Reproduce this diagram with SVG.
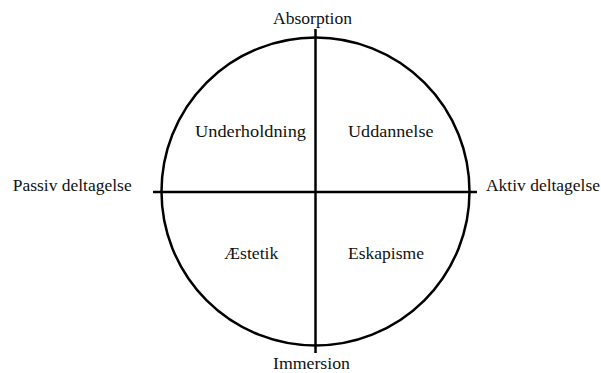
<svg xmlns="http://www.w3.org/2000/svg" width="601" height="373" viewBox="0 0 601 373">
<style>
text{font-family:"Liberation Serif","Times New Roman",serif;font-size:16.5px;fill:#111}
.ln{stroke:#000;stroke-width:2.5;fill:none}
</style>
<rect width="601" height="373" fill="#fff"/>
<g id="circle"><circle class="ln" cx="315.5" cy="191.5" r="154"/></g>
<g id="connectors">
<line class="ln" x1="315.5" y1="29" x2="315.5" y2="353"/>
<line class="ln" x1="153" y1="192" x2="477" y2="192"/>
</g>
<g id="absorption"><text x="273" y="24" textLength="79" lengthAdjust="spacingAndGlyphs">Absorption</text></g>
<g id="immersion"><text x="273" y="369" textLength="77" lengthAdjust="spacingAndGlyphs">Immersion</text></g>
<g id="passiv"><text x="12.7" y="191" textLength="119" lengthAdjust="spacingAndGlyphs">Passiv deltagelse</text></g>
<g id="aktiv"><text x="486" y="191" textLength="114" lengthAdjust="spacingAndGlyphs">Aktiv deltagelse</text></g>
<g id="underholdning"><text x="195" y="137" textLength="111" lengthAdjust="spacingAndGlyphs">Underholdning</text></g>
<g id="uddannelse"><text x="348" y="137" textLength="85.5" lengthAdjust="spacingAndGlyphs">Uddannelse</text></g>
<g id="aestetik"><text x="224.3" y="259" textLength="54" lengthAdjust="spacingAndGlyphs">Æstetik</text></g>
<g id="eskapisme"><text x="348" y="259" textLength="76" lengthAdjust="spacingAndGlyphs">Eskapisme</text></g>
</svg>
